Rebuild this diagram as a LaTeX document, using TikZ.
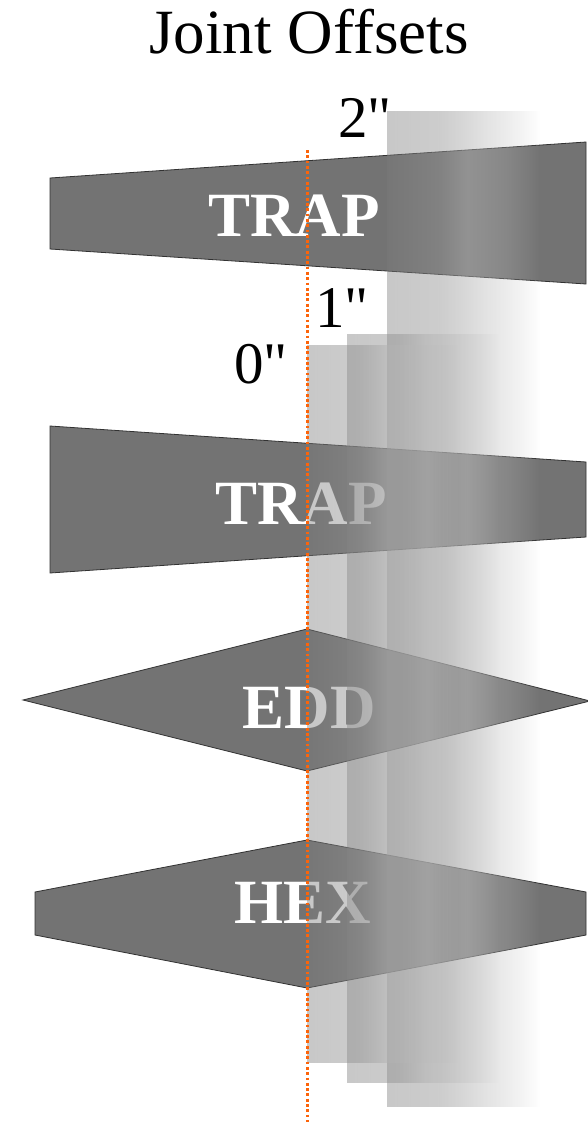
\documentclass[tikz,border=0pt]{standalone}
\usepackage{fontspec}
\setmainfont{Liberation Serif}
\newfontfamily\plainserif{Liberation Serif}[Ligatures=TeXOff]
\usetikzlibrary{fadings}
\definecolor{shapegray}{RGB}{115,115,115}
\definecolor{edgegray}{RGB}{50,50,50}
\definecolor{guide}{RGB}{252,100,10}
\pgfdeclarehorizontalshading{barcol}{100bp}{rgb(0bp)=(.486,.486,.486); rgb(25bp)=(.486,.486,.486); rgb(42.5bp)=(.58,.58,.58); rgb(51bp)=(.698,.698,.698); rgb(64bp)=(.733,.733,.733); rgb(75bp)=(.729,.729,.729); rgb(100bp)=(.729,.729,.729)}
\pgfdeclarehorizontalshading{barop}{100bp}{rgb(0bp)=(.42,.42,.42); rgb(25bp)=(.42,.42,.42); rgb(42.5bp)=(.47,.47,.47); rgb(51bp)=(.5,.5,.5); rgb(64bp)=(.28,.28,.28); rgb(71.5bp)=(.1,.1,.1); rgb(75bp)=(0,0,0); rgb(100bp)=(0,0,0)}
\tikzfading[name=barfade, shading=barop]
\begin{document}
\begin{tikzpicture}[x=1bp,y=-1bp,
  shapebox/.style={fill=shapegray, draw=edgegray, line width=0.8bp, line join=miter},
  shapetext/.style={text=white, font=\fontsize{63bp}{70bp}\selectfont\bfseries, anchor=base, inner sep=0pt},
  titletext/.style={font=\fontsize{63bp}{70bp}\selectfont, anchor=base, inner sep=0pt},
  offlabel/.style={font=\plainserif\fontsize{59bp}{64bp}\selectfont, anchor=base, inner sep=0pt},
  barfill/.style={shading=barcol, path fading=barfade},
  guideline/.style={draw=guide, line width=3bp, dash pattern=on 2.8bp off 2.5bp}]
\useasboundingbox (0,0) rectangle (588,1126);
% title
\node[titletext] (title) at (309,53) {Joint Offsets};
% shapes
\draw[shapebox] (50,178) -- (586,142) -- (586,284) -- (50,249) -- cycle;
\node[shapetext] (trap1) at (294,236) {TRAP};
\draw[shapebox] (50,426) -- (586,462) -- (586,537) -- (50,573) -- cycle;
\node[shapetext] (trap2) at (301,524) {TRAP};
\draw[shapebox] (23,700) -- (307,629) -- (590,701) -- (307,771) -- cycle;
\node[shapetext] (edd) at (309,728) {EDD};
\draw[shapebox] (35,892) -- (307,840) -- (586,892) -- (586,935) -- (307,988) -- (35,935) -- cycle;
\node[shapetext] (hex) at (303,923) {HEX};
% offset bars
\shade[barfill] (387,111) rectangle (540,1107);
\shade[barfill] (347,333) rectangle (500,1082);
\shade[barfill] (307,345) rectangle (460,1062);
% guide line
\coordinate (gtop) at (307,150);
\coordinate (gbot) at (307,1122);
\draw[guideline] (gtop) -- (gbot);
% labels
\node[offlabel] (l2) at (365,137) {2"};
\node[offlabel] (l1) at (342,327) {1"};
\node[offlabel] (l0) at (261,383) {0"};
\end{tikzpicture}
\end{document}
